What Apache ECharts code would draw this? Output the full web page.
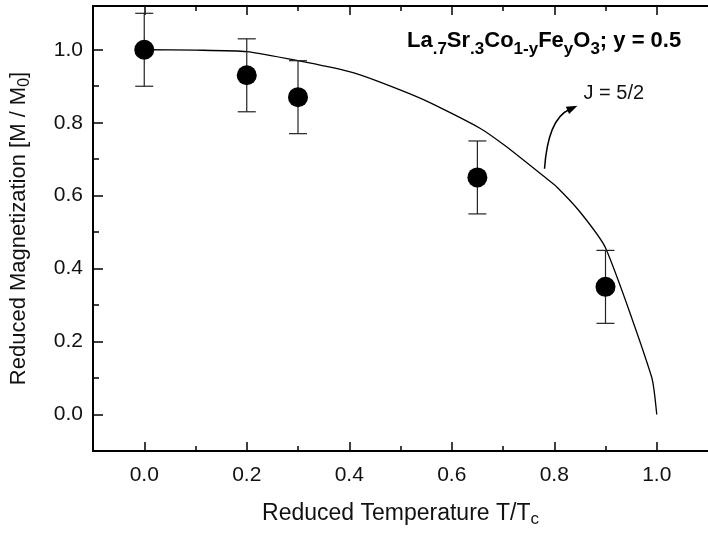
<!DOCTYPE html>
<html>
<head>
<meta charset="utf-8">
<script src="https://cdn.jsdelivr.net/npm/echarts@6/dist/echarts.min.js"></script>
<style>
html, body {
  margin: 0;
  padding: 0;
  background: #fff;
}
#chart {
  width: 708px;
  height: 533px;
}
</style>
</head>
<body>
<div id="chart"></div>
<script>
// measured points (reduced temperature, reduced magnetization, error)
var pointT = [0.0, 0.2, 0.3, 0.65, 0.9];
var pointM = [1.0, 0.93, 0.87, 0.65, 0.35];
var pointErr = [0.1, 0.1, 0.1, 0.1, 0.1];

// J = 5/2 curve
var curveT = [0, 0.1, 0.2, 0.3, 0.4, 0.455, 0.55, 0.655, 0.705, 0.785, 0.805, 0.85, 0.9, 0.99, 1.0];
var curveM = [1.0, 0.999, 0.995, 0.97, 0.94, 0.914, 0.86, 0.785, 0.736, 0.647, 0.624, 0.556, 0.457, 0.103, 0.0];

var xMajor = [0, 0.2, 0.4, 0.6, 0.8, 1.0];
var xMinor = [0.1, 0.3, 0.5, 0.7, 0.9];
var yMajor = [0, 0.2, 0.4, 0.6, 0.8, 1.0];
var yMinor = [0.1, 0.3, 0.5, 0.7, 0.9];

var FONT = 'Liberation Sans, Arial, Helvetica, sans-serif';

var chart = echarts.init(document.getElementById('chart'));

function xAxisCfg (pos, ticks, len, main) {
  return {
    type: 'value',
    position: pos,
    min: -0.1,
    max: 1.1,
    gridIndex: 0,
    axisLine: { show: main, onZero: false, lineStyle: { color: '#000', width: 2 } },
    axisTick: { show: true, inside: true, length: len, customValues: ticks, lineStyle: { color: '#000', width: 1.5 } },
    axisLabel: { show: false },
    splitLine: { show: false }
  };
}

function yAxisCfg (ticks, len, main) {
  return {
    type: 'value',
    position: 'left',
    min: -0.1,
    max: 1.12,
    gridIndex: 0,
    axisLine: { show: main, onZero: false, lineStyle: { color: '#000', width: 2 } },
    axisTick: { show: true, inside: true, length: len, customValues: ticks, lineStyle: { color: '#000', width: 1.5 } },
    axisLabel: { show: false },
    splitLine: { show: false }
  };
}

var xBottom = xAxisCfg('bottom', xMajor, 9, true);
xBottom.axisLabel = {
  show: true,
  customValues: xMajor,
  margin: 14,
  color: '#111',
  fontFamily: FONT,
  fontSize: 21,
  formatter: function (v) { return v.toFixed(1); }
};
xBottom.name = 'Reduced Temperature T/T{s|c}';
xBottom.nameLocation = 'middle';
xBottom.nameGap = 48;
xBottom.nameTextStyle = {
  color: '#111',
  fontFamily: FONT,
  fontSize: 23,
  rich: {
    s: { fontFamily: FONT, fontSize: 17, color: '#111', padding: [12, 0, 0, 0] }
  }
};

var yLeft = yAxisCfg(yMajor, 10, true);
yLeft.axisLabel = {
  show: true,
  customValues: yMajor,
  margin: 10,
  color: '#111',
  fontFamily: FONT,
  fontSize: 21,
  formatter: function (v) { return v.toFixed(1); }
};
yLeft.name = 'Reduced Magnetization [M / M{s|0}]';
yLeft.nameLocation = 'middle';
yLeft.nameGap = 60;
yLeft.nameTextStyle = {
  color: '#111',
  fontFamily: FONT,
  fontSize: 22,
  rich: {
    s: { fontFamily: FONT, fontSize: 16, color: '#111', padding: [12, 0, 0, 0] }
  }
};

var points = pointT.map(function (t, i) { return [t, pointM[i]]; });
var bars = pointT.map(function (t, i) { return [t, pointM[i] - pointErr[i], pointM[i] + pointErr[i]]; });
var curve = curveT.map(function (t, i) { return [t, curveM[i]]; });

var option = {
  animation: false,
  title: {
    text: '{b|La}{s|.7}{b|Sr}{s|.3}{b|Co}{s|1-y}{b|Fe}{s|y}{b|O}{s|3}{b|; y = 0.5}',
    left: 407,
    top: 23,
    padding: 0,
    textStyle: {
      rich: {
        b: { fontFamily: FONT, fontSize: 22, fontWeight: 'bold', color: '#000' },
        s: { fontFamily: FONT, fontSize: 17, fontWeight: 'bold', color: '#000', padding: [18, 0, 0, 0] }
      }
    }
  },
  grid: { left: 93, top: 6, width: 620, height: 449 },
  xAxis: [
    xBottom,
    xAxisCfg('bottom', xMinor, 5, false),
    xAxisCfg('top', xMajor, 9, true),
    xAxisCfg('top', xMinor, 5, false)
  ],
  yAxis: [
    yLeft,
    yAxisCfg(yMinor, 6, false)
  ],
  series: [
    {
      type: 'line',
      data: curve,
      symbol: 'none',
      smooth: 0.2,
      lineStyle: { color: '#000', width: 1.3 },
      z: 2
    },
    {
      type: 'custom',
      data: bars,
      renderItem: function (params, api) {
        var lo = api.coord([api.value(0), api.value(1)]);
        var hi = api.coord([api.value(0), api.value(2)]);
        var w = 9;
        var style = { stroke: '#222', lineWidth: 1.2 };
        return {
          type: 'group',
          children: [
            { type: 'line', shape: { x1: lo[0], y1: lo[1], x2: hi[0], y2: hi[1] }, style: style },
            { type: 'line', shape: { x1: lo[0] - w, y1: lo[1], x2: lo[0] + w, y2: lo[1] }, style: style },
            { type: 'line', shape: { x1: hi[0] - w, y1: hi[1], x2: hi[0] + w, y2: hi[1] }, style: style }
          ]
        };
      },
      z: 3
    },
    {
      type: 'scatter',
      data: points,
      symbol: 'circle',
      symbolSize: 20,
      itemStyle: { color: '#000', opacity: 1 },
      z: 4
    }
  ]
};

chart.setOption(option);

// J = 5/2 label and curved arrow, placed in data coordinates
var arrowStart = chart.convertToPixel({ gridIndex: 0 }, [0.781, 0.674]);
var arrowCtrl = chart.convertToPixel({ gridIndex: 0 }, [0.788, 0.81]);
var arrowEnd = chart.convertToPixel({ gridIndex: 0 }, [0.84, 0.843]);
var labelPos = chart.convertToPixel({ gridIndex: 0 }, [0.857, 0.88]);

var dx = arrowEnd[0] - arrowCtrl[0];
var dy = arrowEnd[1] - arrowCtrl[1];
var len = Math.sqrt(dx * dx + dy * dy);
var ux = dx / len, uy = dy / len;
var tip = [arrowEnd[0] + ux * 3, arrowEnd[1] + uy * 3];
var base = [tip[0] - ux * 11, tip[1] - uy * 11];

chart.setOption({
  graphic: [
    {
      type: 'bezierCurve',
      shape: {
        x1: arrowStart[0], y1: arrowStart[1],
        cpx1: arrowCtrl[0], cpy1: arrowCtrl[1],
        x2: base[0] + ux * 2, y2: base[1] + uy * 2
      },
      style: { stroke: '#000', lineWidth: 1.5, fill: null }
    },
    {
      type: 'polygon',
      shape: {
        points: [
          tip,
          [base[0] - uy * 4, base[1] + ux * 4],
          [base[0] + uy * 4, base[1] - ux * 4]
        ]
      },
      style: { fill: '#000' }
    },
    {
      type: 'text',
      x: labelPos[0],
      y: labelPos[1],
      style: {
        text: 'J = 5/2',
        fontFamily: FONT,
        fontSize: 20,
        fill: '#111',
        align: 'left',
        verticalAlign: 'middle'
      }
    }
  ]
});
</script>
</body>
</html>
